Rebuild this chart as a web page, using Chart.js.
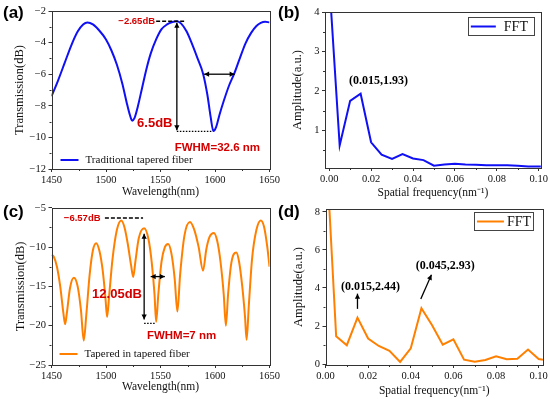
<!DOCTYPE html>
<html>
<head>
<meta charset="utf-8">
<script src="https://cdn.jsdelivr.net/npm/chart.js@4.4.0/dist/chart.umd.min.js"></script>
<style>
  html, body { margin: 0; padding: 0; background: #fff; }
  #wrap { position: relative; width: 550px; height: 399px; overflow: hidden; }
  canvas { position: absolute; }
</style>
</head>
<body>
<div id="wrap">
  <canvas id="panel-a" width="290" height="199" style="left:0;top:0"></canvas>
  <canvas id="panel-b" width="275" height="199" style="left:275px;top:0"></canvas>
  <canvas id="panel-c" width="290" height="200" style="left:0;top:199px"></canvas>
  <canvas id="panel-d" width="275" height="200" style="left:275px;top:199px"></canvas>
</div>
<script>
// (a) traditional tapered fiber, transmission spectrum
const wavelengthA = [1450, 1456, 1462, 1468, 1474, 1479, 1483, 1488, 1494, 1500, 1505, 1510, 1515, 1519, 1522, 1524, 1526, 1529, 1533, 1537, 1541, 1546, 1551, 1556, 1561, 1565, 1569, 1574, 1579, 1584, 1589, 1593, 1596, 1598.5, 1601, 1604, 1608, 1613, 1618, 1623, 1628, 1633, 1638, 1642, 1646, 1650];
const transA = [-7.4, -6.4, -5.3, -4.2, -3.3, -2.85, -2.72, -2.85, -3.25, -3.8, -4.5, -5.4, -6.6, -7.8, -8.6, -8.94, -8.8, -8.1, -6.9, -5.7, -4.7, -3.8, -3.15, -2.85, -2.7, -2.65, -2.8, -3.3, -4.1, -5.0, -5.95, -7.3, -8.7, -9.6, -9.35, -8.6, -7.7, -6.7, -5.9, -4.95, -4.05, -3.4, -2.95, -2.75, -2.68, -2.72];

// (b) FFT of (a)
const freqB = [0, 0.005, 0.01, 0.015, 0.02, 0.025, 0.03, 0.035, 0.04, 0.045, 0.05, 0.055, 0.06, 0.065, 0.07, 0.075, 0.08, 0.085, 0.09, 0.095, 0.1, 0.105];
const ampB = [4.8, 0.62, 1.75, 1.93, 0.70, 0.39, 0.28, 0.40, 0.29, 0.25, 0.11, 0.14, 0.16, 0.14, 0.13, 0.12, 0.12, 0.12, 0.11, 0.09, 0.09, 0.09];

// (c) tapered in tapered fiber, transmission spectrum
const wavelengthC = [1450, 1452, 1455, 1458, 1461, 1462.5, 1464, 1467, 1470.5, 1474, 1477, 1479.6, 1482, 1485, 1488, 1491, 1494, 1497, 1499.5, 1501, 1503, 1506, 1510, 1514, 1517, 1520, 1523, 1525, 1527, 1530, 1535, 1539, 1542, 1544.5, 1546, 1548, 1551, 1554, 1557, 1560, 1563, 1565.5, 1568, 1572, 1577, 1581, 1585, 1589, 1592, 1595, 1599, 1602, 1605, 1608, 1610, 1612, 1615, 1619.5, 1622, 1625, 1627.5, 1629, 1631, 1634, 1638, 1642, 1645, 1648, 1650];
const transC = [-11.0, -11.2, -12.5, -15.0, -18.5, -19.8, -18.5, -15.2, -13.9, -15.0, -18.0, -21.9, -18.5, -13.5, -10.4, -9.5, -10.5, -13.0, -16.5, -18.9, -16.0, -11.5, -7.8, -6.6, -7.5, -9.6, -12.3, -13.8, -11.8, -8.9, -7.6, -9.0, -12.0, -16.0, -19.5, -16.0, -11.8, -10.0, -9.6, -10.8, -14.0, -18.2, -13.5, -8.5, -6.8, -7.8, -10.0, -13.0, -10.3, -8.7, -8.2, -9.2, -11.8, -16.0, -20.0, -16.0, -12.0, -10.7, -11.8, -15.0, -18.8, -21.8, -17.5, -11.5, -7.8, -6.6, -7.4, -10.0, -12.5];

// (d) FFT of (c)
const freqD = [0, 0.005, 0.01, 0.015, 0.02, 0.025, 0.03, 0.035, 0.04, 0.045, 0.05, 0.055, 0.06, 0.065, 0.07, 0.075, 0.08, 0.085, 0.09, 0.095, 0.1, 0.102];
const ampD = [12, 1.46, 0.99, 2.44, 1.34, 0.95, 0.70, 0.11, 0.83, 2.93, 2.04, 1.02, 1.30, 0.23, 0.12, 0.21, 0.41, 0.25, 0.28, 0.76, 0.26, 0.22];

// ticks
const wlTicks = [1450, 1500, 1550, 1600, 1650];
const wlMinor = [1475, 1525, 1575, 1625];
const transTicksA = [-12, -10, -8, -6, -4, -2];
const transMinorA = [-11, -9, -7, -5, -3];
const transTicksC = [-25, -20, -15, -10, -5];
const transMinorC = [-22.5, -17.5, -12.5, -7.5];
const freqTicks = [0, 0.02, 0.04, 0.06, 0.08, 0.1];
const freqMinor = [0.01, 0.03, 0.05, 0.07, 0.09];
const ampTicksB = [1, 2, 3, 4];
const ampMinorB = [0.5, 1.5, 2.5, 3.5];
const ampTicksD = [0, 2, 4, 6, 8];
const ampMinorD = [1, 3, 5, 7];

const RED = '#d40000';
const BLUE = '#1010f5';
const ORANGE = '#ff8000';
const SERIF = '"Liberation Serif", "Times New Roman", serif';
const SANS = '"Liberation Sans", Arial, sans-serif';

function drawArrowHead(ctx, x1, y1, x2, y2) {
    const a = Math.atan2(y2 - y1, x2 - x1);
    const len = 5, wid = 2.6;
    ctx.beginPath();
    ctx.moveTo(x2, y2);
    ctx.lineTo(x2 - len * Math.cos(a) + wid * Math.sin(a), y2 - len * Math.sin(a) - wid * Math.cos(a));
    ctx.lineTo(x2 - len * Math.cos(a) - wid * Math.sin(a), y2 - len * Math.sin(a) + wid * Math.cos(a));
    ctx.closePath();
    ctx.fill();
}

// frame, minor ticks, notes, legend and panel letter
const decoPlugin = {
    id: 'deco',
    afterDraw(chart, args, o) {
        const ctx = chart.ctx;
        const { left, right, top, bottom } = chart.chartArea;
        const xs = chart.scales.x, ys = chart.scales.y;
        ctx.save();
        ctx.strokeStyle = '#333';
        ctx.lineWidth = 1;
        ctx.strokeRect(Math.round(left) + 0.5, Math.round(top) + 0.5, Math.round(right - left), Math.round(bottom - top));

        ctx.beginPath();
        o.xMinor.forEach(v => {
            const p = Math.round(xs.getPixelForValue(v)) + 0.5;
            ctx.moveTo(p, bottom); ctx.lineTo(p, bottom + 2);
        });
        o.yMinor.forEach(v => {
            const p = Math.round(ys.getPixelForValue(v)) + 0.5;
            ctx.moveTo(left, p); ctx.lineTo(left - 2, p);
        });
        ctx.stroke();

        (o.notes || []).forEach(n => {
            ctx.save();
            if (n.t === 'text') {
                ctx.font = n.font;
                ctx.fillStyle = n.color || '#000';
                ctx.textAlign = n.align || 'center';
                ctx.textBaseline = 'middle';
                ctx.fillText(n.s, xs.getPixelForValue(n.x), ys.getPixelForValue(n.y));
            } else {
                const x1 = xs.getPixelForValue(n.x1), y1 = ys.getPixelForValue(n.y1);
                const x2 = xs.getPixelForValue(n.x2), y2 = ys.getPixelForValue(n.y2);
                ctx.strokeStyle = '#000';
                ctx.fillStyle = '#000';
                ctx.lineWidth = n.w || 1.3;
                if (n.dash) ctx.setLineDash(n.dash);
                ctx.beginPath();
                ctx.moveTo(x1, y1); ctx.lineTo(x2, y2);
                ctx.stroke();
                ctx.setLineDash([]);
                if (n.t === 'arrow') {
                    drawArrowHead(ctx, x1, y1, x2, y2);
                    if (n.both) drawArrowHead(ctx, x2, y2, x1, y1);
                }
            }
            ctx.restore();
        });

        const lg = o.legend;
        if (lg) {
            const lx = lg.box ? right - lg.dx : left + lg.dx;
            const ly = lg.box ? top + lg.dy : bottom - lg.dy;
            if (lg.box) {
                ctx.strokeStyle = '#444';
                ctx.lineWidth = 1;
                ctx.strokeRect(Math.round(lx) + 0.5, Math.round(ly) + 0.5, lg.w, lg.h);
            }
            const cy = lg.box ? ly + lg.h / 2 + 0.5 : ly;
            const sx = lg.box ? lx + 3 : lx;
            ctx.strokeStyle = lg.color;
            ctx.lineWidth = 2;
            ctx.beginPath();
            ctx.moveTo(sx, cy); ctx.lineTo(sx + lg.len, cy);
            ctx.stroke();
            ctx.fillStyle = '#111';
            ctx.font = lg.font;
            ctx.textAlign = 'left';
            ctx.textBaseline = 'middle';
            ctx.fillText(lg.text, sx + lg.len + lg.gap, cy + 0.5);
        }

        ctx.fillStyle = '#000';
        ctx.font = 'bold 17px ' + SANS;
        ctx.textAlign = 'left';
        ctx.textBaseline = 'middle';
        ctx.fillText(o.letter, 3, o.letterY);
        ctx.restore();
    }
};

function minusSign(v) {
    return String(v).replace('-', '\u2212');
}

function makePanel(id, p) {
    const tickFont = { family: SERIF, size: 10.5 };
    return new Chart(document.getElementById(id), {
        type: 'line',
        data: {
            datasets: [{
                data: p.xs.map((x, i) => ({ x: x, y: p.ys[i] })),
                borderColor: p.color,
                borderWidth: p.lineWidth,
                pointRadius: 0,
                fill: false,
                tension: p.smooth ? 0.4 : 0,
                cubicInterpolationMode: p.smooth ? 'monotone' : 'default'
            }]
        },
        options: {
            responsive: false,
            animation: false,
            devicePixelRatio: 1,
            layout: { padding: { left: 0, top: p.top, right: p.right, bottom: 0 } },
            plugins: { legend: { display: false }, tooltip: { enabled: false }, deco: p.deco },
            scales: {
                x: {
                    type: 'linear',
                    min: p.xMin, max: p.xMax,
                    afterBuildTicks: s => { s.ticks = p.xTicks.map(v => ({ value: v })); },
                    afterFit: s => { s.height = p.xH; },
                    ticks: { font: tickFont, color: '#111', padding: 2, maxRotation: 0, autoSkip: false, callback: p.xFmt },
                    grid: { drawOnChartArea: false, drawTicks: true, tickLength: 3, color: '#333' },
                    border: { display: false },
                    title: { display: true, text: p.xTitle, font: { family: SERIF, size: 11.5, lineHeight: 1 }, color: '#111', padding: { top: 0, bottom: p.xTitlePad } }
                },
                y: {
                    type: 'linear',
                    min: p.yMin, max: p.yMax,
                    afterBuildTicks: s => { s.ticks = p.yTicks.map(v => ({ value: v })); },
                    afterFit: s => { s.width = p.yW; },
                    ticks: { font: tickFont, color: '#111', padding: 2.5, autoSkip: false, callback: v => minusSign(v) },
                    grid: { drawOnChartArea: false, drawTicks: true, tickLength: 3, color: '#333' },
                    border: { display: false },
                    title: { display: true, text: p.yTitle, font: { family: SERIF, size: 12.5, lineHeight: 1 }, color: '#111', padding: { top: p.yTitlePad, bottom: 0 } }
                }
            }
        },
        plugins: [decoPlugin]
    });
}

const redBig = 'bold 13px ' + SANS;
const redMid = 'bold 11.5px ' + SANS;
const redSmall = 'bold 9.5px ' + SANS;
const noteFont = 'bold 12px ' + SERIF;

makePanel('panel-a', {
    xs: wavelengthA, ys: transA, color: BLUE, lineWidth: 2, smooth: true,
    top: 11, right: 20.5, xH: 30, yW: 51.5,
    xMin: 1450, xMax: 1650, yMin: -12, yMax: -2,
    xTicks: wlTicks, yTicks: transTicksA, xFmt: v => String(v),
    xTitle: 'Wavelength(nm)', yTitle: 'Transmission(dB)', xTitlePad: 1, yTitlePad: 13,
    deco: {
        letter: '(a)', letterY: 13, xMinor: wlMinor, yMinor: transMinorA,
        legend: { dx: 9, dy: 9, len: 18, gap: 7, color: BLUE, text: 'Traditional tapered fiber', font: '11px ' + SERIF },
        notes: [
            { t: 'text', x: 1545, y: -2.65, s: '\u22122.65dB', font: redSmall, color: RED, align: 'right' },
            { t: 'line', x1: 1546, y1: -2.65, x2: 1573, y2: -2.65, dash: [4, 2], w: 1.5 },
            { t: 'arrow', x1: 1565, y1: -2.75, x2: 1565, y2: -9.55, both: true },
            { t: 'line', x1: 1565, y1: -9.62, x2: 1598, y2: -9.62, dash: [1.5, 1.5], w: 1.3 },
            { t: 'text', x: 1561, y: -9.1, s: '6.5dB', font: redBig, color: RED, align: 'right' },
            { t: 'text', x: 1563, y: -10.65, s: 'FWHM=32.6 nm', font: redMid, color: RED, align: 'left' },
            { t: 'arrow', x1: 1590, y1: -6.0, x2: 1618, y2: -6.0, both: true }
        ]
    }
});

makePanel('panel-b', {
    xs: freqB, ys: ampB, color: BLUE, lineWidth: 2, smooth: false,
    top: 12, right: 8, xH: 31, yW: 50,
    xMin: -0.002, xMax: 0.101, yMin: 0.05, yMax: 4,
    xTicks: freqTicks, yTicks: ampTicksB, xFmt: v => v.toFixed(2),
    xTitle: 'Spatial frequency(nm\u207B\u00B9)', yTitle: 'Amplitude(a.u.)', xTitlePad: 0, yTitlePad: 16,
    deco: {
        letter: '(b)', letterY: 13, xMinor: freqMinor, yMinor: ampMinorB,
        legend: { box: true, dx: 73, dy: 5, w: 66, h: 18, len: 25, gap: 8, color: BLUE, text: 'FFT', font: '14px ' + SERIF },
        notes: [
            { t: 'text', x: 0.0235, y: 2.25, s: '(0.015,1.93)', font: noteFont }
        ]
    }
});

makePanel('panel-c', {
    xs: wavelengthC, ys: transC, color: ORANGE, lineWidth: 2, smooth: true,
    top: 6, right: 20.5, xH: 34, yW: 51.5,
    xMin: 1450, xMax: 1650, yMin: -25, yMax: -5,
    xTicks: wlTicks, yTicks: transTicksC, xFmt: v => String(v),
    xTitle: 'Wavelength(nm)', yTitle: 'Transmission(dB)', xTitlePad: 6, yTitlePad: 14,
    deco: {
        letter: '(c)', letterY: 13, xMinor: wlMinor, yMinor: transMinorC,
        legend: { dx: 8, dy: 11, len: 18, gap: 7, color: ORANGE, text: 'Tapered in tapered fiber', font: '11px ' + SERIF },
        notes: [
            { t: 'text', x: 1495, y: -6.4, s: '\u22126.57dB', font: redSmall, color: RED, align: 'right' },
            { t: 'line', x1: 1499, y1: -6.3, x2: 1534, y2: -6.3, dash: [4, 2], w: 1.5 },
            { t: 'arrow', x1: 1535, y1: -8.3, x2: 1535, y2: -19.2, both: true },
            { t: 'line', x1: 1535, y1: -19.7, x2: 1546, y2: -19.7, dash: [1.5, 1.5], w: 1.3 },
            { t: 'text', x: 1533, y: -16.0, s: '12.05dB', font: redBig, color: RED, align: 'right' },
            { t: 'text', x: 1537.5, y: -21.3, s: 'FWHM=7 nm', font: redMid, color: RED, align: 'left' },
            { t: 'arrow', x1: 1541, y1: -13.75, x2: 1554, y2: -13.75, both: true }
        ]
    }
});

makePanel('panel-d', {
    xs: freqD, ys: ampD, color: ORANGE, lineWidth: 2, smooth: false,
    top: 10, right: 7, xH: 34, yW: 50.5,
    xMin: 0, xMax: 0.102, yMin: -0.05, yMax: 8.15,
    xTicks: freqTicks, yTicks: ampTicksD, xFmt: v => v.toFixed(2),
    xTitle: 'Spatial frequency(nm\u207B\u00B9)', yTitle: 'Amplitude(a.u.)', xTitlePad: 2, yTitlePad: 17,
    deco: {
        letter: '(d)', letterY: 13, xMinor: freqMinor, yMinor: ampMinorD,
        legend: { box: true, dx: 69, dy: 3, w: 59, h: 18, len: 27, gap: 3, color: ORANGE, text: 'FFT', font: '14px ' + SERIF },
        notes: [
            { t: 'text', x: 0.0211, y: 4.03, s: '(0.015,2.44)', font: noteFont },
            { t: 'arrow', x1: 0.015, y1: 2.9, x2: 0.015, y2: 3.7 },
            { t: 'text', x: 0.0562, y: 5.18, s: '(0.045,2.93)', font: noteFont },
            { t: 'arrow', x1: 0.0447, y1: 3.42, x2: 0.0497, y2: 4.69 }
        ]
    }
});
</script>
</body>
</html>
